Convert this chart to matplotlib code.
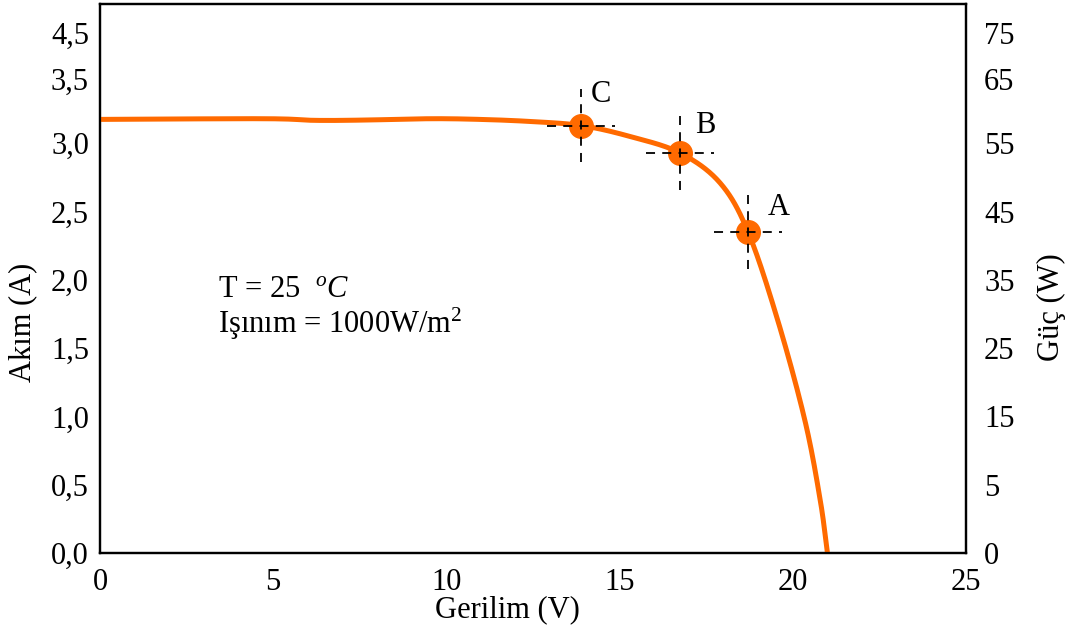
import numpy as np
import matplotlib
matplotlib.use("Agg")
import matplotlib.pyplot as plt

plt.rcParams['font.family'] = ['Liberation Serif', 'DejaVu Serif']
plt.rcParams['mathtext.fontset'] = 'custom'
plt.rcParams['mathtext.rm'] = 'Liberation Serif'
plt.rcParams['mathtext.it'] = 'Liberation Serif:italic'

# I-V curve
volt = [0, 4.76, 6.2, 7.6, 9.53, 10.97, 12.4, 13.89, 15.3, 16.74, 17.9, 18.71, 19.57, 20.35, 20.79, 21.0]
akim = [3.175, 3.18, 3.168, 3.17, 3.18, 3.175, 3.16, 3.13, 3.05, 2.93, 2.71, 2.35, 1.70, 0.97, 0.39, 0.0]

# operating points
pt_names = ['C', 'B', 'A']
pt_v = [13.89, 16.74, 18.71]
pt_i = [3.13, 2.93, 2.35]

# tick labels (positions as they sit in the picture)
left_pos = [0, 0.5, 1.0, 1.5, 2.0, 2.5, 3.0, 3.47, 3.81]
left_lab = ['0,0', '0,5', '1,0', '1,5', '2,0', '2,5', '3,0', '3,5', '4,5']
right_lab = ['0', '5', '15', '25', '35', '45', '55', '65', '75']
x_ticks = [0, 5, 10, 15, 20, 25]

fs = 22
orange = '#ff6a00'


def catmull(x, y, n=30):
    # smooth drawing path through the read points
    x = np.asarray(x, float); y = np.asarray(y, float)
    px = np.concatenate([[2*x[0]-x[1]], x, [2*x[-1]-x[-2]]])
    py = np.concatenate([[2*y[0]-y[1]], y, [2*y[-1]-y[-2]]])
    t = np.linspace(0, 1, n, endpoint=False)
    ox, oy = [], []
    for j in range(1, len(px)-2):
        for arr, out in ((px, ox), (py, oy)):
            p0, p1, p2, p3 = arr[j-1], arr[j], arr[j+1], arr[j+2]
            out.extend(0.5*((2*p1) + (-p0+p2)*t + (2*p0-5*p1+4*p2-p3)*t**2 + (-p0+3*p1-3*p2+p3)*t**3))
    ox.append(x[-1]); oy.append(y[-1])
    return ox, oy


fig = plt.figure(figsize=(10.75, 6.27), dpi=100)
ax = fig.add_axes([100/1075, 1 - 553/627, 866/1075, 549/627])

sx, sy = catmull(volt, akim)
ax.plot(sx, sy, color=orange, lw=3.6, solid_capstyle='butt', zorder=3)

dv, di = 0.98, 0.27
for n, v, i in zip(pt_names, pt_v, pt_i):
    ax.plot(v, i, 'o', color=orange, ms=17, zorder=4)
    ax.plot([v - dv, v + dv], [i, i], '--', color='black', lw=1.3, dashes=(5, 4), zorder=5)
    ax.plot([v, v], [i - di, i + di], '--', color='black', lw=1.3, dashes=(5, 4), zorder=5)
offs = {'C': (14, 22), 'B': (18, 20), 'A': (22, 18)}
for n, v, i in zip(pt_names, pt_v, pt_i):
    ax.annotate(n, (v, i), xytext=offs[n], textcoords='offset points', fontsize=fs, ha='center', va='center')

ax.text(3.4, 1.93, r'T = 25  $^{o}C$', fontsize=fs, va='center')
ax.text(3.4, 1.68, r'Işınım = 1000W/m$^{2}$', fontsize=fs, va='center')

ax.set_xlim(0, 25)
ax.set_ylim(0, 4.02)
ax.set_xticks(x_ticks)
ax.set_yticks(left_pos)
ax.set_yticklabels(left_lab)
ax.tick_params(axis='both', length=0, labelsize=fs)
ax.tick_params(axis='y', pad=8)
ax.tick_params(axis='x', pad=11)
for s in ax.spines.values():
    s.set_linewidth(1.6)

ax2 = ax.twinx()
ax2.set_ylim(0, 4.02)
ax2.set_yticks(left_pos)
ax2.set_yticklabels(right_lab)
ax2.tick_params(axis='y', length=0, labelsize=fs, pad=13)
for s in ax2.spines.values():
    s.set_linewidth(1.6)

ax.set_xlabel('Gerilim (V)', fontsize=fs)
ax.xaxis.set_label_coords(0.471, -0.076)
ax.set_ylabel('Akım (A)', fontsize=fs)
ax.yaxis.set_label_coords(-0.073, 0.42)
ax2.set_ylabel('Güç (W)', fontsize=fs, rotation=90)
ax2.yaxis.set_label_coords(1.082, 0.448)

fig.savefig('out.png', dpi=100)
